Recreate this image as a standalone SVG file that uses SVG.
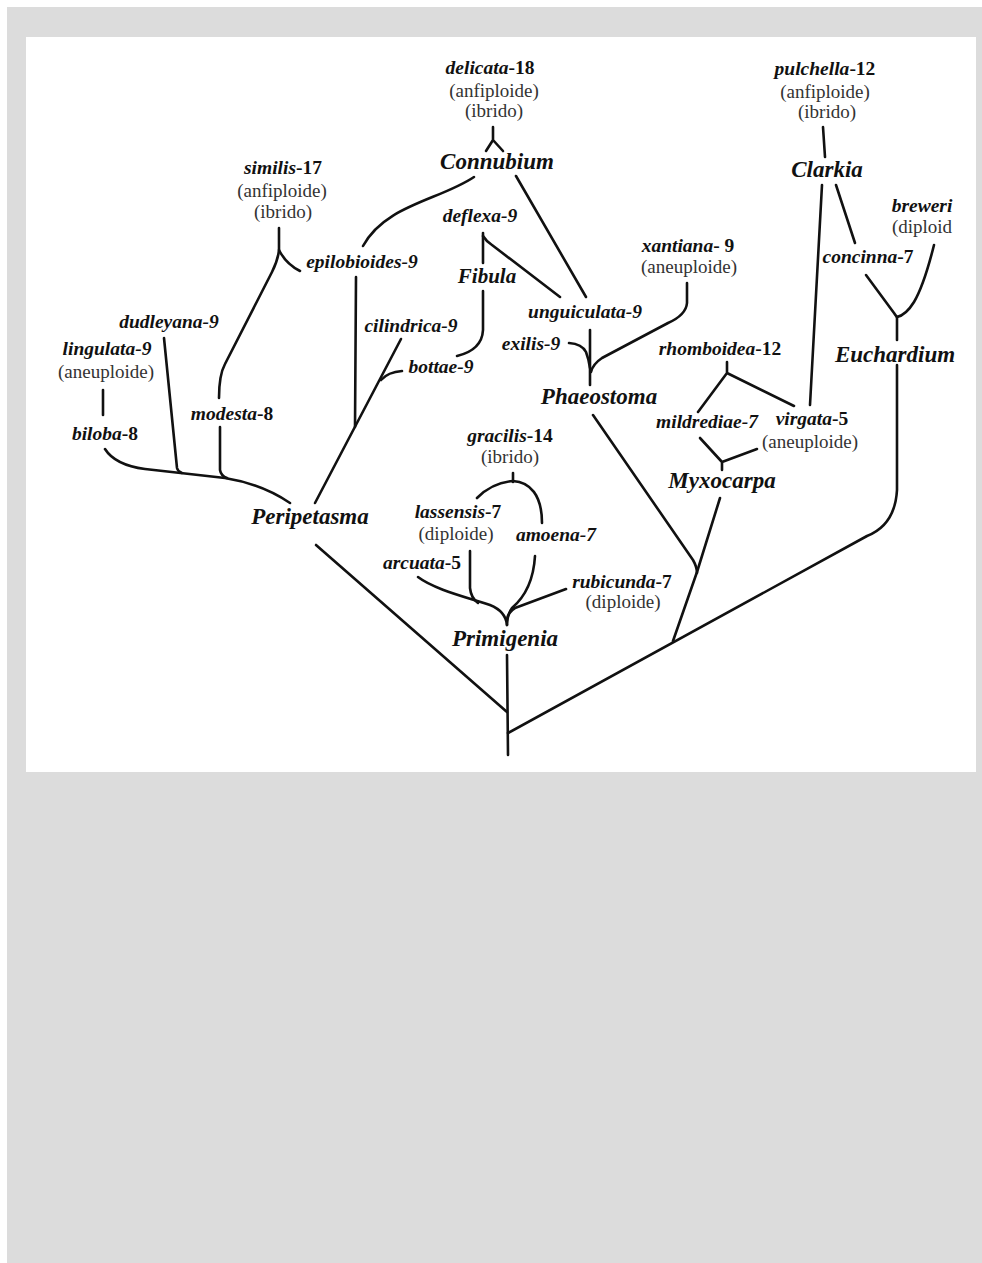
<svg xmlns="http://www.w3.org/2000/svg" width="982" height="1263" viewBox="0 0 982 1263">
  <style>
    text { font-family: "Liberation Serif", "Times New Roman", "DejaVu Serif", serif; }
    .sp { font-size: 19.5px; font-weight: bold; font-style: italic; fill: #111; text-anchor: middle; }
    .n { font-style: normal; }
    .note { font-size: 19px; fill: #333; text-anchor: middle; }
    .clade { font-size: 23px; font-weight: bold; font-style: italic; fill: #111; text-anchor: middle; }
    .edge { fill: none; stroke: #111; stroke-width: 2.6; stroke-linecap: round; stroke-linejoin: round; }
  </style>

  <!-- page frame -->
  <rect x="0" y="0" width="982" height="1263" fill="#ffffff"/>
  <rect x="7" y="7" width="975" height="1256" fill="#dcdcdc"/>
  <rect x="26" y="37" width="950" height="735" fill="#ffffff"/>

  <!-- branches of the tree -->
  <g id="connectors" class="edge">
    <!-- delicata -> Connubium -->
    <path d="M493,127 L493,140 M493,140 L486,151 M493,140 L503,151"/>
    <!-- Connubium -> epilobioides / unguiculata -->
    <path d="M474,177 C440,200 385,205 363,246"/>
    <path d="M516,176 L586,297"/>
    <!-- deflexa -> Fibula / unguiculata -->
    <path d="M483,233 L483,263"/>
    <path d="M483,236 Q486,241 492,245 L560,297"/>
    <!-- Fibula -> bottae -->
    <path d="M483,291 L483,330 Q482,350 457,356"/>
    <!-- similis -> epilobioides / modesta -->
    <path d="M279,228 L279,250 Q286,264 300,271"/>
    <path d="M279,250 Q278,260 272,272 L225,364 Q219,375 219,398"/>
    <!-- cilindrica / bottae / epilobioides -> Peripetasma -->
    <path d="M401,339 L315,503"/>
    <path d="M402,371 Q388,372 381,380"/>
    <path d="M356,277 L355,427"/>
    <!-- lingulata -> biloba -->
    <path d="M103,390 L103,415"/>
    <!-- biloba / dudleyana / modesta -> Peripetasma -->
    <path d="M105,449 Q115,465 145,469 L225,478 Q262,484 290,503"/>
    <path d="M164,338 L177,468 Q178,472 182,473"/>
    <path d="M220,427 L220,470 Q221,476 227,478"/>
    <!-- Peripetasma -> root -->
    <path d="M316,545 L507,712"/>
    <!-- root -->
    <path d="M507,655 L508,755"/>
    <!-- Euchardium -> root -->
    <path d="M897,365 L897,490 Q895,525 867,536 L508,733"/>
    <!-- Phaeostoma and Myxocarpa -> Euchardium branch -->
    <path d="M593,415 L693,560 Q697,567 697,573"/>
    <path d="M720,498 L697,572 L673,641"/>
    <!-- unguiculata / exilis / xantiana -> Phaeostoma -->
    <path d="M590,330 L590,385"/>
    <path d="M569,343 Q582,344 586,352 Q589,360 590,368"/>
    <path d="M687,283 L687,303 Q686,315 668,323 L602,358 Q593,364 591,372"/>
    <!-- pulchella -> Clarkia -->
    <path d="M823,127 L825,157"/>
    <!-- Clarkia -> virgata / concinna -->
    <path d="M822,185 L810,405"/>
    <path d="M836,185 L855,243"/>
    <!-- concinna / breweri -> Euchardium -->
    <path d="M866,275 L894,313 Q896,316 897,317"/>
    <path d="M934,245 Q924,285 914,302 Q906,315 897,317"/>
    <path d="M897,317 L897,340"/>
    <!-- rhomboidea -> mildrediae / virgata -->
    <path d="M727,362 L727,373 L698,412 M727,373 L794,406"/>
    <!-- mildrediae / virgata -> Myxocarpa -->
    <path d="M700,438 L722,462 L757,449 M722,462 L722,470"/>
    <!-- gracilis -> lassensis / amoena -->
    <path d="M513,473 L513,482"/>
    <path d="M477,498 C488,487 500,482 513,481 C530,482 542,495 542,523"/>
    <!-- arcuata / lassensis / amoena / rubicunda -> Primigenia -->
    <path d="M418,577 C435,590 470,598 490,605 C500,609 506,615 507,625"/>
    <path d="M470,551 L470,588 Q471,598 478,603"/>
    <path d="M535,556 Q533,590 512,608 Q507,615 507,625"/>
    <path d="M566,589 L515,608 Q508,612 507,620"/>
  </g>

  <!-- taxa -->
  <g id="delicata">
    <text class="sp" x="490" y="74">delicata<tspan class="n">-18</tspan></text>
    <text class="note" x="494" y="97">(anfiploide)</text>
    <text class="note" x="494" y="117">(ibrido)</text>
  </g>
  <g id="connubium"><text class="clade" x="497" y="169">Connubium</text></g>
  <g id="similis">
    <text class="sp" x="283" y="174">similis<tspan class="n">-17</tspan></text>
    <text class="note" x="282" y="197">(anfiploide)</text>
    <text class="note" x="283" y="218">(ibrido)</text>
  </g>
  <g id="deflexa"><text class="sp" x="480" y="222">deflexa-9</text></g>
  <g id="fibula"><text class="clade" x="487" y="283" style="font-size:21px">Fibula</text></g>
  <g id="epilobioides"><text class="sp" x="362" y="268">epilobioides-9</text></g>
  <g id="cilindrica"><text class="sp" x="411" y="332">cilindrica-9</text></g>
  <g id="bottae"><text class="sp" x="441" y="373">bottae-9</text></g>
  <g id="dudleyana"><text class="sp" x="169" y="328">dudleyana-9</text></g>
  <g id="lingulata">
    <text class="sp" x="107" y="355">lingulata-9</text>
    <text class="note" x="106" y="378">(aneuploide)</text>
  </g>
  <g id="biloba"><text class="sp" x="105" y="440">biloba<tspan class="n">-8</tspan></text></g>
  <g id="modesta"><text class="sp" x="232" y="420">modesta<tspan class="n">-8</tspan></text></g>
  <g id="peripetasma"><text class="clade" x="310" y="524">Peripetasma</text></g>
  <g id="unguiculata"><text class="sp" x="585" y="318">unguiculata-9</text></g>
  <g id="exilis"><text class="sp" x="531" y="350">exilis-9</text></g>
  <g id="xantiana">
    <text class="sp" x="688" y="252">xantiana<tspan class="n">- 9</tspan></text>
    <text class="note" x="689" y="273">(aneuploide)</text>
  </g>
  <g id="phaeostoma"><text class="clade" x="599" y="404">Phaeostoma</text></g>
  <g id="pulchella">
    <text class="sp" x="825" y="75">pulchella<tspan class="n">-12</tspan></text>
    <text class="note" x="825" y="98">(anfiploide)</text>
    <text class="note" x="827" y="118">(ibrido)</text>
  </g>
  <g id="clarkia"><text class="clade" x="827" y="177">Clarkia</text></g>
  <g id="concinna"><text class="sp" x="868" y="263">concinna<tspan class="n">-7</tspan></text></g>
  <g id="breweri">
    <text class="sp" x="922" y="212">breweri</text>
    <text class="note" x="922" y="233">(diploid</text>
  </g>
  <g id="euchardium"><text class="clade" x="895" y="362">Euchardium</text></g>
  <g id="rhomboidea"><text class="sp" x="720" y="355">rhomboidea<tspan class="n">-12</tspan></text></g>
  <g id="mildrediae"><text class="sp" x="707" y="428">mildrediae-7</text></g>
  <g id="virgata">
    <text class="sp" x="812" y="425">virgata<tspan class="n">-5</tspan></text>
    <text class="note" x="810" y="448">(aneuploide)</text>
  </g>
  <g id="myxocarpa"><text class="clade" x="722" y="488">Myxocarpa</text></g>
  <g id="gracilis">
    <text class="sp" x="510" y="442">gracilis<tspan class="n">-14</tspan></text>
    <text class="note" x="510" y="463">(ibrido)</text>
  </g>
  <g id="lassensis">
    <text class="sp" x="458" y="518">lassensis<tspan class="n">-7</tspan></text>
    <text class="note" x="456" y="540">(diploide)</text>
  </g>
  <g id="amoena"><text class="sp" x="556" y="541">amoena-7</text></g>
  <g id="arcuata"><text class="sp" x="422" y="569">arcuata<tspan class="n">-5</tspan></text></g>
  <g id="rubicunda">
    <text class="sp" x="622" y="588">rubicunda<tspan class="n">-7</tspan></text>
    <text class="note" x="623" y="608">(diploide)</text>
  </g>
  <g id="primigenia"><text class="clade" x="505" y="646">Primigenia</text></g>
</svg>
